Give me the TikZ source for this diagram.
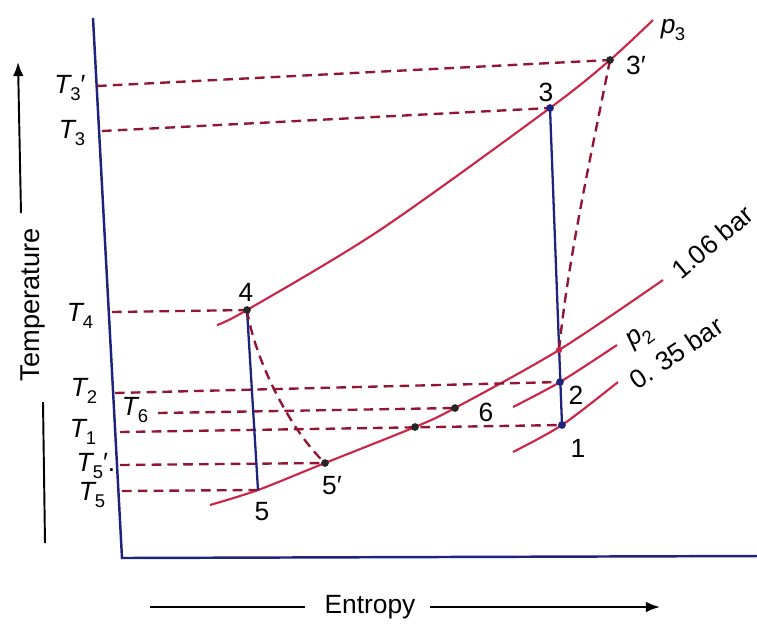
\documentclass[tikz,border=0pt]{standalone}
\usepackage{fontspec}
\setmainfont{Liberation Sans}
\usetikzlibrary{arrows.meta}
\definecolor{curvered}{RGB}{204,36,70}
\definecolor{dashred}{RGB}{146,22,52}
\definecolor{axisblue}{RGB}{28,36,128}
\newcommand{\Tl}[1]{\textit{T}\kern-0.06em\raisebox{-0.55ex}{\fontsize{10.5}{11}\selectfont #1}}
\newcommand{\pl}[1]{\textit{p}\kern-0.02em\raisebox{-0.55ex}{\fontsize{10.5}{11}\selectfont #1}}

\begin{document}
\begin{tikzpicture}[x=0.02cm, y=-0.02cm, every node/.style={font=\fontsize{15}{17}\selectfont, inner sep=0pt},
    isobar/.style={curvered, line width=1.2pt},
    level/.style={dashred, line width=1.35pt, dash pattern=on 5.5pt off 3.5pt},
    expan/.style={axisblue, line width=1.3pt},
    axarrow/.style={line width=1.1pt, -{Latex[length=8pt,width=6pt]}}]
    \useasboundingbox (0,0) rectangle (757,627);

    % axes
    \coordinate (ytop) at (93,18);
    \coordinate (orig) at (122,558);
    \coordinate (xend) at (757,556);
    \draw[axisblue, line width=1.4pt] (ytop) -- (orig) -- (xend);

    % state points
    \coordinate (s1) at (562,425);
    \coordinate (s2) at (560,382);
    \coordinate (s3) at (550,108);
    \coordinate (s3p) at (610,60);
    \coordinate (s4) at (247,310);
    \coordinate (s5) at (258,490);
    \coordinate (s5p) at (325,463);
    \coordinate (s6) at (455,408);
    \coordinate (s7) at (415,427);
    \coordinate (sx) at (559,350);

    % isobars
    \draw[isobar] plot[smooth] coordinates {(217,325) (s4) (380,230) (s3) (s3p) (653,20)};
    \draw[isobar] plot[smooth] coordinates {(210,505) (s5) (s5p) (s7) (s6) (sx) (663,280)};
    \draw[isobar] plot[smooth] coordinates {(513,407) (s2) (617,345)};
    \draw[isobar] plot[smooth] coordinates {(513,452) (s1) (618,382)};

    % temperature levels
    \coordinate (a3p) at (97,86);
    \coordinate (a3) at (102,131);
    \coordinate (a4) at (112,312);
    \coordinate (a2) at (115,393);
    \coordinate (a6) at (158,413);
    \coordinate (a1) at (120,432);
    \coordinate (a5p) at (120,465);
    \coordinate (a5) at (122,491);
    \foreach \a/\b in {a3p/s3p, a3/s3, a4/s4, a2/s2, a6/s6, a1/s1, a5p/s5p, a5/s5}
        \draw[level] (\a) -- (\b);

    % expansion and compression
    \draw[expan] (s3) -- (s1);
    \draw[expan] (s4) -- (s5);
    \draw[level] (s3p) .. controls (590,160) and (568,260) .. (sx);
    \draw[level] (s4) .. controls (255,360) and (290,430) .. (s5p);

    \foreach \p in {s3p, s4, s5p, s6, s7}
        \fill[black!85] (\p) circle (2.2pt);
    \foreach \p in {s3, s2, s1}
        \fill[axisblue] (\p) circle (2.2pt);
    \fill[curvered] (sx) circle (1.8pt);

    % point labels
    \node (l1) at (578,448) {1};
    \node (l2) at (576,395) {2};
    \node (l3) at (546,92) {3};
    \node (l3p) at (636,65) {3′};
    \node (l4) at (246,292) {4};
    \node (l5) at (262,512) {5};
    \node (l5p) at (332,486) {5′};
    \node (l6) at (486,412) {6};

    % isobar labels
    \node (lp3) at (673,30) {\pl{3}};
    \node[rotate=40] (l106) at (712,242) {1.06 bar};
    \node[rotate=36] (lp2) at (640,338) {\pl{2}};
    \node[rotate=34] (l035) at (676,353) {0. 35 bar};

    % level labels
    \node (t3p) at (70,88) {\Tl{3}′};
    \node (t3) at (72,133) {\Tl{3}};
    \node (t4) at (80,316) {\Tl{4}};
    \node (t2) at (84,391) {\Tl{2}};
    \node (t6) at (135,410) {\Tl{6}};
    \node (t1) at (83,432) {\Tl{1}};
    \node (t5p) at (96,466) {\Tl{5}′.};
    \node (t5) at (92,495) {\Tl{5}};

    % axis titles
    \node[rotate=90, font=\fontsize{15.5}{17}\selectfont] (templbl) at (33,305) {Temperature};
    \coordinate (ta) at (21,213);
    \coordinate (tb) at (18,62);
    \coordinate (tc) at (43,402);
    \coordinate (td) at (45,543);
    \draw[axarrow] (ta) -- (tb);
    \draw[line width=1.1pt] (tc) -- (td);
    \node (entlbl) at (370,607) {Entropy};
    \coordinate (ea) at (150,607);
    \coordinate (eb) at (305,607);
    \coordinate (ec) at (430,607);
    \coordinate (ed) at (660,607);
    \draw[line width=1.1pt] (ea) -- (eb);
    \draw[axarrow] (ec) -- (ed);
\end{tikzpicture}
\end{document}
